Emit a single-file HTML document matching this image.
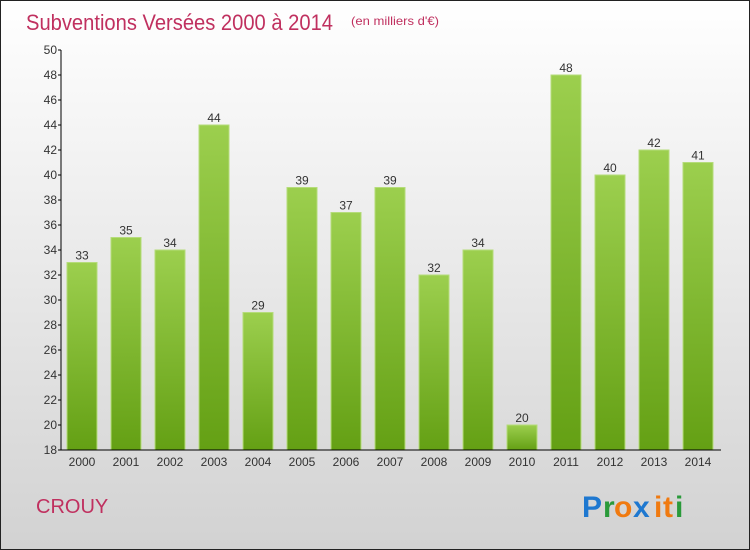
<!DOCTYPE html>
<html><head><meta charset="utf-8"><style>
html,body{margin:0;padding:0;width:750px;height:550px;overflow:hidden}
svg{display:block;font-family:"Liberation Sans",sans-serif}
</style></head><body>
<svg id="chart" width="750" height="550" viewBox="0 0 750 550" xmlns="http://www.w3.org/2000/svg">
<defs>
<linearGradient id="bg" x1="0" y1="0" x2="0" y2="1"><stop offset="0" stop-color="#ffffff"/><stop offset="1" stop-color="#d2d2d2"/></linearGradient>
<linearGradient id="bar" x1="0" y1="0" x2="0" y2="1"><stop offset="0" stop-color="#9ccf4e"/><stop offset="1" stop-color="#64a014"/></linearGradient>
</defs>
<rect x="0.5" y="0.5" width="749" height="549" fill="url(#bg)" stroke="#222"/>
<text x="26" y="30" font-size="22" fill="#c0305f" textLength="307" lengthAdjust="spacingAndGlyphs">Subventions Versées 2000 à 2014</text>
<text x="351" y="25" font-size="12" fill="#c0305f" textLength="88" lengthAdjust="spacingAndGlyphs">(en milliers d'€)</text>
<g id="bars"></g>
<g id="axes"></g>
<text x="36" y="513" font-size="20" fill="#c0305f">CROUY</text>
<g font-size="30" font-weight="bold">
<text x="582" y="517" fill="#1e78d0">P</text><text x="603" y="517" fill="#2a9a3a">r</text><text x="614" y="517" fill="#f07a10">o</text><text x="633" y="517" fill="#1e78d0">x</text><text x="654" y="517" fill="#f07a10">i</text><text x="663" y="517" fill="#f07a10">t</text><text x="675" y="517" fill="#2a9a3a">i</text>
</g>
</svg>
<script>
const years=["2000","2001","2002","2003","2004","2005","2006","2007","2008","2009","2010","2011","2012","2013","2014"];
const values=[33,35,34,44,29,39,37,39,32,34,20,48,40,42,41];
const yTicks=[18,20,22,24,26,28,30,32,34,36,38,40,42,44,46,48,50];
const NS="http://www.w3.org/2000/svg";
const yMin=18,yMax=50,plotTop=50,plotBottom=450;
const yScale=v=>plotBottom-(v-yMin)/(yMax-yMin)*(plotBottom-plotTop);
const xScale=i=>82+i*44;
function mk(t,a,p){const e=document.createElementNS(NS,t);for(const k in a)e.setAttribute(k,a[k]);p.appendChild(e);return e;}
const barsG=document.getElementById('bars'),axesG=document.getElementById('axes');
values.forEach((v,i)=>{
 const r=mk('rect',{x:xScale(i)-15,y:yScale(v),width:30,height:plotBottom-yScale(v),fill:'url(#bar)',stroke:'#b5dc7a','stroke-width':1},barsG);
 
 
 const t=mk('text',{x:xScale(i),y:yScale(v)-3,'text-anchor':'middle','font-size':12,fill:'#333'},barsG);
 
 
 t.textContent=v;
 const xl=mk('text',{x:xScale(i),y:466,'text-anchor':'middle','font-size':12,fill:'#333'},axesG);
 
 
 xl.textContent=years[i];
});
const ya=mk('line',{x1:61,y1:plotTop,x2:61,y2:plotBottom,stroke:'#000'},axesG);


const xa=mk('line',{x1:61,y1:plotBottom,x2:721,y2:plotBottom,stroke:'#000'},axesG);


yTicks.forEach(v=>{
 mk('line',{x1:58,y1:yScale(v),x2:61,y2:yScale(v),stroke:'#000'},axesG);
 const t=mk('text',{x:57,y:yScale(v)+4,'text-anchor':'end','font-size':12,fill:'#333'},axesG);
 
 
 t.textContent=v;
});
</script>
</body></html>
